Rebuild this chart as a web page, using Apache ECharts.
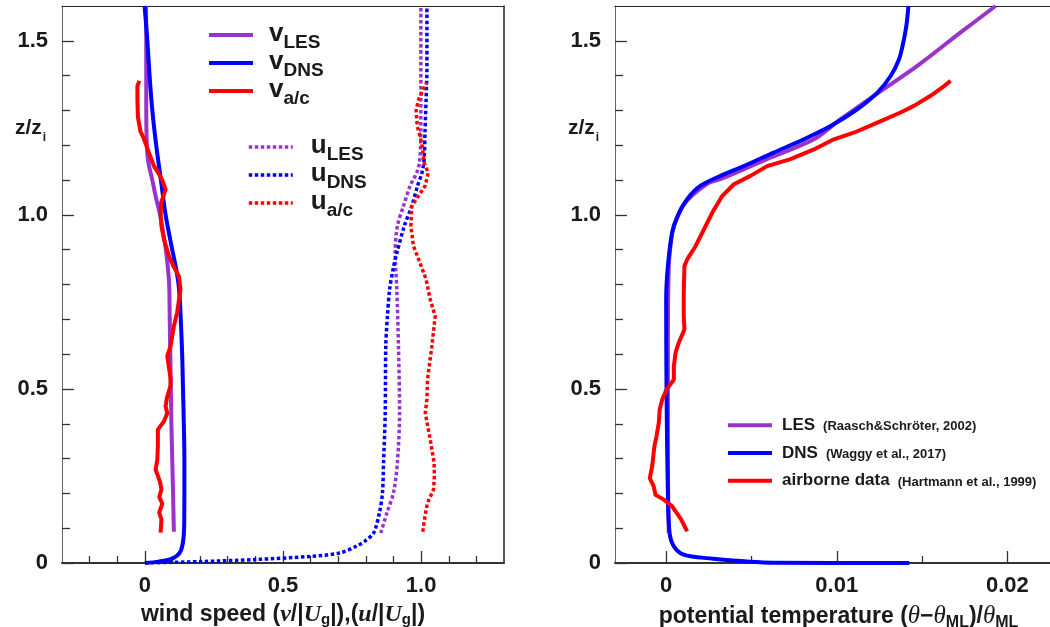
<!DOCTYPE html>
<html><head><meta charset="utf-8">
<script src="https://cdn.jsdelivr.net/npm/echarts@6/dist/echarts.min.js"></script>
<style>html,body{margin:0;padding:0;background:#fff}#c{width:1050px;height:627px}</style>
</head><body><div id="c"></div>
<script>
// ---------------- data (x, z/zi) ----------------
const vLES = [[0.105,0.090],[0.102,0.200],[0.099,0.300],[0.096,0.400],[0.094,0.500],[0.092,0.600],[0.090,0.700],[0.088,0.800],[0.083,0.850],[0.076,0.900],[0.066,0.950],[0.055,1.000],[0.040,1.050],[0.027,1.100],[0.018,1.130],[0.011,1.160],[0.007,1.200],[0.005,1.300],[0.005,1.400],[0.005,1.500],[0.004,1.600]];
const vDNS = [[0.000,0.000],[0.050,0.004],[0.090,0.010],[0.115,0.020],[0.130,0.035],[0.138,0.060],[0.142,0.100],[0.143,0.200],[0.143,0.300],[0.141,0.400],[0.138,0.500],[0.135,0.600],[0.130,0.700],[0.127,0.750],[0.122,0.800],[0.112,0.850],[0.099,0.900],[0.075,1.000],[0.058,1.100],[0.041,1.200],[0.027,1.300],[0.017,1.400],[0.009,1.500],[-0.001,1.600]];
const vAC = [[0.057,0.087],[0.060,0.125],[0.052,0.145],[0.063,0.170],[0.052,0.190],[0.060,0.211],[0.054,0.235],[0.039,0.268],[0.045,0.297],[0.047,0.335],[0.047,0.383],[0.069,0.407],[0.081,0.430],[0.075,0.450],[0.080,0.475],[0.093,0.510],[0.093,0.530],[0.081,0.594],[0.093,0.623],[0.105,0.680],[0.117,0.720],[0.129,0.786],[0.123,0.824],[0.103,0.853],[0.087,0.882],[0.069,0.930],[0.060,0.968],[0.057,1.000],[0.059,1.035],[0.075,1.073],[0.063,1.100],[0.045,1.125],[0.033,1.140],[0.014,1.180],[-0.004,1.220],[-0.016,1.240],[-0.025,1.280],[-0.027,1.330],[-0.027,1.370],[-0.020,1.385]];
const uLES = [[0.854,0.086],[0.876,0.144],[0.900,0.202],[0.914,0.288],[0.922,0.432],[0.918,0.623],[0.912,0.786],[0.906,0.890],[0.914,0.968],[0.936,1.025],[0.960,1.083],[0.984,1.121],[0.994,1.150],[0.999,1.237],[0.999,1.332],[0.999,1.450],[0.999,1.600]];
const uDNS = [[0.000,0.000],[0.200,0.004],[0.400,0.010],[0.600,0.019],[0.707,0.029],[0.770,0.050],[0.800,0.065],[0.828,0.086],[0.849,0.144],[0.860,0.201],[0.864,0.288],[0.870,0.431],[0.872,0.623],[0.878,0.709],[0.886,0.786],[0.900,0.850],[0.912,0.890],[0.939,0.968],[0.966,1.025],[0.987,1.083],[1.003,1.121],[1.011,1.160],[1.014,1.237],[1.018,1.332],[1.021,1.428],[1.021,1.600]];
const uAC = [[1.006,0.090],[1.011,0.120],[1.023,0.173],[1.045,0.211],[1.048,0.250],[1.047,0.288],[1.033,0.355],[1.015,0.431],[1.021,0.470],[1.023,0.527],[1.039,0.623],[1.051,0.709],[1.033,0.757],[1.018,0.815],[0.996,0.862],[0.972,0.911],[0.963,0.968],[0.966,1.025],[0.990,1.054],[1.014,1.083],[1.026,1.121],[1.010,1.150],[1.006,1.188],[0.996,1.227],[0.986,1.255],[0.982,1.300],[0.990,1.330],[1.020,1.380]];
const tLES = [[0.00015,0.086],[0.0001,0.300],[0.0001,0.600],[0.00015,0.850],[0.0003,0.930],[0.00045,0.968],[0.00103,1.030],[0.0024,1.089],[0.0032,1.103],[0.0059,1.160],[0.00866,1.217],[0.0102,1.274],[0.01218,1.342],[0.01472,1.428],[0.01726,1.524],[0.01931,1.600]];
const tDNS = [[0.01425,0.000],[0.0063,0.001],[0.0024,0.014],[0.00103,0.024],[0.00045,0.048],[0.0002,0.086],[0.0001,0.200],[0.00002,0.500],[0.0,0.757],[0.0001,0.853],[0.00035,0.949],[0.00068,0.997],[0.00123,1.045],[0.002,1.083],[0.00318,1.112],[0.00455,1.140],[0.0063,1.179],[0.00807,1.217],[0.00964,1.255],[0.0112,1.303],[0.01238,1.351],[0.01316,1.399],[0.01365,1.447],[0.0139,1.495],[0.01408,1.543],[0.0142,1.600]];
const tAC = [[0.00123,0.091],[0.00088,0.125],[0.00035,0.163],[-0.00014,0.182],[-0.00063,0.196],[-0.00073,0.220],[-0.00096,0.244],[-0.00082,0.278],[-0.00069,0.335],[-0.00057,0.364],[-0.00043,0.403],[-0.00038,0.441],[-0.00023,0.470],[0.00002,0.498],[0.00045,0.527],[0.00045,0.565],[0.00055,0.604],[0.00074,0.633],[0.00107,0.671],[0.00103,0.709],[0.00103,0.776],[0.00107,0.853],[0.00123,0.872],[0.00172,0.910],[0.00221,0.958],[0.0027,1.006],[0.00328,1.054],[0.00397,1.088],[0.00494,1.112],[0.00592,1.140],[0.00729,1.160],[0.00866,1.188],[0.00983,1.217],[0.011,1.236],[0.01238,1.265],[0.01374,1.294],[0.01452,1.313],[0.0155,1.342],[0.01619,1.366],[0.01667,1.385]];

// ---------------- ticks ----------------
const yMajor = [0, 0.5, 1.0, 1.5];
const yMinor = [0.1,0.2,0.3,0.4,0.6,0.7,0.8,0.9,1.1,1.2,1.3,1.4];
const leftXMajor = [0, 0.5, 1.0];
const leftXMinor = [-0.2,-0.1,0.1,0.2,0.3,0.4,0.6,0.7,0.8,0.9,1.1,1.2];
const rightXMajor = [0, 0.01, 0.02];
const rightXMinor = [0.005, 0.015];

const vNames = ['v_LES','v_DNS','v_a/c'];
const uNames = ['u_LES','u_DNS','u_a/c'];
const tNames = ['LES','DNS','airborne data'];
const tRefs = {'LES':'(Raasch&Schröter, 2002)','DNS':'(Waggy et al., 2017)','airborne data':'(Hartmann et al., 1999)'};

// ---------------- style ----------------
const SANS = "'Liberation Sans', Arial, Helvetica, sans-serif";
const SERIF = "'Liberation Serif', 'Times New Roman', serif";
const TXT = '#1a1a1a';
const PURPLE = '#9933cc', BLUE = '#0000ff', RED = '#ff0000';
const AX = '#333';
const DOT = [3.5, 2.5];

function fmt1(v){ return v === 0 ? '0' : v.toFixed(1); }
function fmt2(v){ return v === 0 ? '0' : v.toFixed(2); }

function mainX(gi, min, max, major, fmt, name, rich, gap, pad){
  return {type:'value', gridIndex:gi, min, max, position:'bottom',
    axisLine:{show:true, onZero:false, lineStyle:{color:AX, width:2}},
    axisTick:{show:true, inside:true, length:12, customValues:major, lineStyle:{color:AX, width:1.3}},
    axisLabel:{show:true, customValues:major, formatter:fmt, margin:12, color:TXT, fontFamily:SANS, fontWeight:'bold', fontSize:22},
    splitLine:{show:false},
    name, nameLocation:'middle', nameGap:gap, nameTextStyle:{rich, padding:pad, color:TXT}};
}
function minorX(gi, min, max, minor){
  return {type:'value', gridIndex:gi, min, max, position:'bottom',
    axisLine:{show:false, onZero:false}, axisTick:{show:true, inside:true, length:7, customValues:minor, lineStyle:{color:AX, width:1.3}},
    axisLabel:{show:false}, splitLine:{show:false}};
}
function borderX(gi, min, max){
  return {type:'value', gridIndex:gi, min, max, position:'top',
    axisLine:{show:true, onZero:false, lineStyle:{color:'#222', width:1}}, axisTick:{show:false}, axisLabel:{show:false}, splitLine:{show:false}};
}
function mainY(gi){
  return {type:'value', gridIndex:gi, min:0, max:1.6, position:'left',
    axisLine:{show:true, onZero:false, lineStyle:{color:'#666', width:1}},
    axisTick:{show:true, inside:true, length:12, customValues:yMajor, lineStyle:{color:AX, width:1.3}},
    axisLabel:{show:true, customValues:yMajor, formatter:fmt1, margin:14, color:TXT, fontFamily:SANS, fontWeight:'bold', fontSize:22},
    splitLine:{show:false}};
}
function minorY(gi){
  return {type:'value', gridIndex:gi, min:0, max:1.6, position:'left',
    axisLine:{show:false, onZero:false}, axisTick:{show:true, inside:true, length:8, customValues:yMinor, lineStyle:{color:AX, width:1.3}},
    axisLabel:{show:false}, splitLine:{show:false}};
}
function borderY(gi){
  return {type:'value', gridIndex:gi, min:0, max:1.6, position:'right',
    axisLine:{show:true, onZero:false, lineStyle:{color:'#222', width:1.5}}, axisTick:{show:false}, axisLabel:{show:false}, splitLine:{show:false}};
}

function ser(name, data, color, panel, dotted){
  return {type:'line', name, data, xAxisIndex: panel === 0 ? 0 : 3, yAxisIndex: panel === 0 ? 0 : 3,
    symbol:'none', smooth: color === RED ? false : 0.3, silent:true,
    lineStyle:{color, width: dotted ? 3.5 : 4, type: dotted ? DOT : 'solid', cap:'butt', join:'round'},
    itemStyle:{color}};
}

const leftNameRich = {
  t:{fontFamily:SANS, fontWeight:'bold', fontSize:23, color:TXT, lineHeight:26},
  i:{fontFamily:SERIF, fontWeight:'bold', fontStyle:'italic', fontSize:24, color:TXT, lineHeight:26},
  s:{fontFamily:SANS, fontWeight:'bold', fontSize:15, color:TXT, lineHeight:26, padding:[10,0,0,0]}
};
const rightNameRich = {
  t:{fontFamily:SANS, fontWeight:'bold', fontSize:23, color:TXT, lineHeight:26},
  g:{fontFamily:SERIF, fontStyle:'italic', fontSize:25, color:TXT, lineHeight:26},
  s:{fontFamily:SANS, fontWeight:'bold', fontSize:16, color:TXT, lineHeight:26, padding:[13,0,0,0]}
};
const leftName = '{t|wind speed (}{i|v}{t|/|}{i|U}{s|g}{t||),(}{i|u}{t|/|}{i|U}{s|g}{t||)}';
const rightName = '{t|potential temperature (}{g|θ}{t|−}{g|θ}{s|ML}{t|)/}{g|θ}{s|ML}';

function vuLegend(names, left, top, padL, lw, lt){
  return {data:names, orient:'vertical', left, top, padding:0, itemGap:-6, itemWidth:44, itemHeight:28,
    selectedMode:false, itemStyle:{opacity:0}, lineStyle:{width:lw, type:lt, cap:'butt'},
    formatter: n => { const p = n.split('_'); return '{m|' + p[0] + '}{s|' + p[1] + '}'; },
    textStyle:{rich:{
      m:{fontFamily:SANS, fontWeight:'bold', fontSize:26, color:TXT, lineHeight:28, padding:[0,0,3,padL]},
      s:{fontFamily:SANS, fontWeight:'bold', fontSize:19, color:TXT, lineHeight:28, padding:[15,0,0,0]}
    }}};
}

const zRich = {
  m:{fontFamily:SANS, fontWeight:'bold', fontSize:21, fill:TXT, lineHeight:22},
  s:{fontFamily:SANS, fontWeight:'bold', fontSize:12, fill:TXT, lineHeight:22, padding:[19,0,0,1]}
};

const option = {
  animation:false,
  backgroundColor:'#fff',
  grid:[
    {left:62, right:546, top:6, bottom:64, containLabel:false, outerBoundsMode:'none'},
    {left:615, right:0, top:6, bottom:64, containLabel:false, outerBoundsMode:'none'}
  ],
  xAxis:[
    mainX(0, -0.3, 1.3, leftXMajor, fmt1, leftName, leftNameRich, 29, [0,0,0,0]),
    minorX(0, -0.3, 1.3, leftXMinor),
    borderX(0, -0.3, 1.3),
    mainX(1, -0.003, 0.0225, rightXMajor, fmt2, rightName, rightNameRich, 29, [0,0,0,12]),
    minorX(1, -0.003, 0.0225, rightXMinor),
    borderX(1, -0.003, 0.0225)
  ],
  yAxis:[ mainY(0), minorY(0), borderY(0), mainY(1), minorY(1) ],
  legend:[
    vuLegend(vNames, 207, 18, 11, 4, 'solid'),
    vuLegend(uNames, 247, 130, 13, 3.5, DOT),
    {data:tNames, orient:'vertical', left:726, top:414, padding:0, itemGap:5.4, itemWidth:44, itemHeight:28,
     selectedMode:false, itemStyle:{opacity:0}, lineStyle:{width:4, cap:'butt'},
     formatter: n => '{m|' + n + '}{r|' + tRefs[n] + '}',
     textStyle:{rich:{
       m:{fontFamily:SANS, fontWeight:'bold', fontSize:17, color:TXT, lineHeight:28, padding:[0,0,0,5]},
       r:{fontFamily:SANS, fontWeight:'bold', fontSize:13, color:TXT, lineHeight:28, padding:[3,0,0,8]}
     }}}
  ],
  graphic:[
    {type:'text', x:15, y:128, silent:true, style:{text:'{m|z/z}{s|i}', rich:zRich, verticalAlign:'middle', align:'left'}},
    {type:'text', x:568, y:128, silent:true, style:{text:'{m|z/z}{s|i}', rich:zRich, verticalAlign:'middle', align:'left'}}
  ],
  series:[
    ser('v_LES', vLES, PURPLE, 0, false),
    ser('v_DNS', vDNS, BLUE, 0, false),
    ser('v_a/c', vAC, RED, 0, false),
    ser('u_LES', uLES, PURPLE, 0, true),
    ser('u_DNS', uDNS, BLUE, 0, true),
    ser('u_a/c', uAC, RED, 0, true),
    ser('LES', tLES, PURPLE, 1, false),
    ser('DNS', tDNS, BLUE, 1, false),
    ser('airborne data', tAC, RED, 1, false)
  ]
};
const chart = echarts.init(document.getElementById('c'), null, {renderer:'canvas'});
chart.setOption(option);
</script>
</body></html>
